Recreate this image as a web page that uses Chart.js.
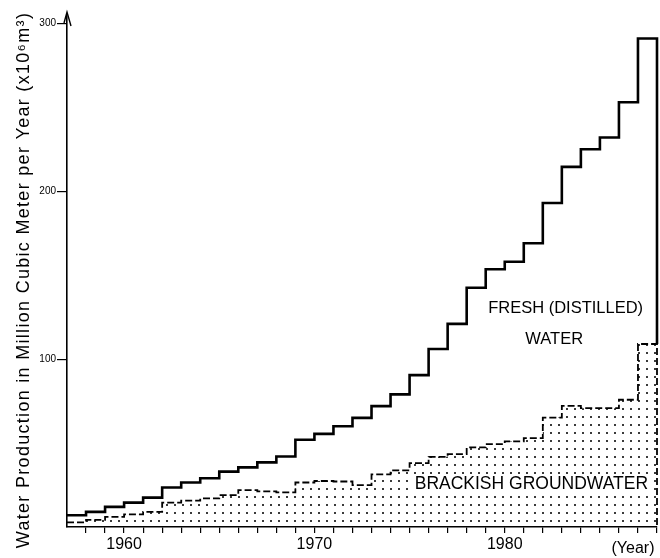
<!DOCTYPE html>
<html>
<head>
<meta charset="utf-8">
<script src="https://cdn.jsdelivr.net/npm/chart.js@4/dist/chart.umd.min.js"></script>
<style>
  html, body { margin: 0; padding: 0; background: #fff; }
  #wrap { width: 660px; height: 558px; }
</style>
</head>
<body>
<div id="wrap"><canvas id="chart" width="660" height="558"></canvas></div>
<script>
// Annual production, million m3 per year (value held through each year)
const years = [1957, 1958, 1959, 1960, 1961, 1962, 1963, 1964, 1965, 1966,
               1967, 1968, 1969, 1970, 1971, 1972, 1973, 1974, 1975, 1976,
               1977, 1978, 1979, 1980, 1981, 1982, 1983, 1984, 1985, 1986, 1987];
const freshWater = [7, 9, 12, 14.5, 17.5, 23.5, 26.5, 29, 33, 35.5,
                    38.5, 42, 52, 55.5, 60, 65, 72, 79, 90.5, 106,
                    121, 142.5, 153.5, 158, 169, 193, 214.5, 225, 232, 253, 291];
const brackishGroundwater = [2.7, 4.3, 6, 7.5, 9, 14.5, 15.7, 17, 19, 22,
                             21.2, 20.6, 26.5, 27.4, 27.1, 25, 31.3, 33.7, 38, 41.8,
                             43.4, 47.4, 49.4, 51, 53, 65.2, 72.2, 70.8, 70.8, 75.8, 109];
const endYear = 1988;
const yTickValues = [100, 200, 300];
const xTickLabels = [1960, 1970, 1980];
const xTickYears = years.slice(1).concat([endYear]);
const yTitle = 'Water Production in Million Cubic Meter per Year (x10\u2076m\u00b3)';

const FONT = "'Liberation Sans', Arial, Helvetica, sans-serif";

// dotted fill for the groundwater area
function dotPattern() {
  const tile = document.createElement('canvas');
  tile.width = 8; tile.height = 8;
  const t = tile.getContext('2d');
  t.fillStyle = '#3a3a3a';
  t.fillRect(6, 0, 2, 2);
  return document.getElementById('chart').getContext('2d').createPattern(tile, 'repeat');
}

// fresh line closes down onto the groundwater line at the right edge
const freshPoints = years.map((x, i) => ({ x, y: freshWater[i] }))
  .concat([{ x: endYear, y: brackishGroundwater[brackishGroundwater.length - 1] }]);
const brackishPoints = years.map((x, i) => ({ x, y: brackishGroundwater[i] }))
  .concat([{ x: endYear, y: 0 }]);

const decorations = {
  id: 'decorations',
  afterDatasetsDraw(chart) {
    const { ctx, chartArea, scales: { x, y } } = chart;
    ctx.save();
    ctx.fillStyle = '#000';
    ctx.textAlign = 'center';
    ctx.textBaseline = 'middle';

    ctx.font = '16.5px ' + FONT;
    ctx.fillText('FRESH (DISTILLED)', x.getPixelForValue(1983.2), y.getPixelForValue(130));
    ctx.fillText('WATER', x.getPixelForValue(1982.6), y.getPixelForValue(112));

    ctx.font = '17.5px ' + FONT;
    const bx = x.getPixelForValue(1981.4), by = y.getPixelForValue(25.5);
    const label = 'BRACKISH GROUNDWATER';
    const w = ctx.measureText(label).width;
    ctx.fillStyle = '#fff';
    ctx.fillRect(bx - w / 2 - 4, by - 10, w + 8, 20);
    ctx.fillStyle = '#000';
    ctx.fillText(label, bx, by);

    // (Year) under the right end of the axis
    ctx.font = '16px ' + FONT;
    ctx.fillText('(Year)', chartArea.right - 24, chartArea.bottom + 22);

    // value-axis title, spaced out along the full height
    ctx.save();
    ctx.translate(24, (chartArea.top + chartArea.bottom) / 2 + 9);
    ctx.rotate(-Math.PI / 2);
    ctx.font = '18px ' + FONT;
    ctx.letterSpacing = '1.3px';
    ctx.fillText(yTitle, 0, 0);
    ctx.restore();

    // arrow head on the value axis
    const ax = chartArea.left;
    ctx.strokeStyle = '#000';
    ctx.lineWidth = 1.4;
    ctx.beginPath();
    ctx.moveTo(ax, chartArea.top);
    ctx.lineTo(ax, chartArea.top - 3);
    ctx.moveTo(ax - 3, chartArea.top + 8);
    ctx.lineTo(ax, chartArea.top - 3);
    ctx.lineTo(ax + 4, chartArea.top + 11);
    ctx.stroke();
    ctx.restore();
  }
};

new Chart(document.getElementById('chart'), {
  type: 'line',
  data: {
    datasets: [
      {
        label: 'Fresh (distilled) water',
        data: freshPoints,
        stepped: 'before',
        borderColor: '#000',
        borderWidth: 2.6,
        pointRadius: 0,
        fill: false,
        clip: 8,
        borderJoinStyle: 'miter',
        borderCapStyle: 'butt'
      },
      {
        label: 'Brackish groundwater',
        data: brackishPoints,
        stepped: 'before',
        borderColor: '#000',
        borderWidth: 1.8,
        borderDash: [7, 3],
        pointRadius: 0,
        fill: 'origin',
        backgroundColor: dotPattern(),
        clip: 8
      }
    ]
  },
  options: {
    responsive: false,
    animation: false,
    events: [],
    layout: { padding: { top: 15, right: 3, left: 0, bottom: 0 } },
    plugins: { legend: { display: false }, tooltip: { enabled: false } },
    scales: {
      x: {
        type: 'linear',
        min: 1957,
        max: endYear,
        afterBuildTicks: s => { s.ticks = xTickYears.map(v => ({ value: v })); },
        afterFit: s => { s.height = 31; },
        grid: { drawOnChartArea: false, drawTicks: true, tickLength: 6, color: '#000', lineWidth: 1.2 },
        border: { display: true, color: '#000', width: 1.6 },
        ticks: {
          autoSkip: false,
          maxRotation: 0,
          padding: 2,
          color: '#000',
          font: { family: FONT, size: 16 },
          callback: v => xTickLabels.includes(v) ? String(v) : ''
        }
      },
      y: {
        type: 'linear',
        min: 0,
        max: 305,
        afterBuildTicks: s => { s.ticks = yTickValues.map(v => ({ value: v })); },
        afterFit: s => { s.width = 67; },
        grid: { drawOnChartArea: false, drawTicks: true, tickLength: 10, color: '#000', lineWidth: 1.2 },
        border: { display: true, color: '#000', width: 1.6 },
        ticks: {
          padding: 1,
          color: '#000',
          font: { family: FONT, size: 10 },
          callback: v => String(v)
        },
        title: { display: false }
      }
    }
  },
  plugins: [decorations]
});
</script>
</body>
</html>
